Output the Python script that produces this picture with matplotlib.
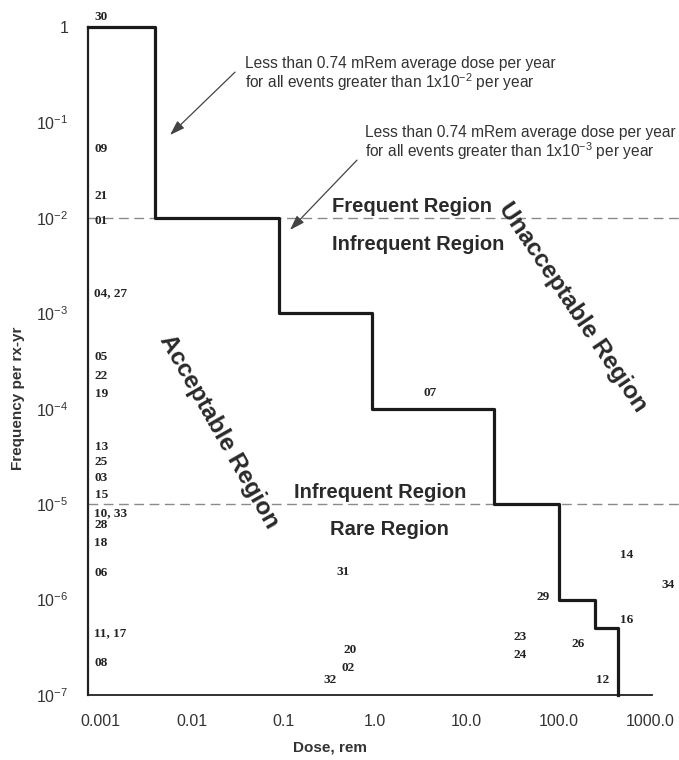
import matplotlib
matplotlib.use("Agg")
import matplotlib.pyplot as plt

plt.rcParams['font.family'] = ['Liberation Sans', 'DejaVu Sans']
plt.rcParams['mathtext.fontset'] = 'custom'
plt.rcParams['mathtext.rm'] = 'Liberation Sans'
plt.rcParams['mathtext.it'] = 'Liberation Sans:italic'
plt.rcParams['mathtext.bf'] = 'Liberation Sans:bold'

# ---- data ----
step_dose = [0.00074, 0.004, 0.09, 0.92, 20, 100, 250, 450]
step_freq = [1, 1e-2, 1e-3, 1e-4, 1e-5, 1e-6, 5e-7, 1e-7]

x_ticks = [0.001, 0.01, 0.1, 1.0, 10.0, 100.0, 1000.0]
x_ticklabels = ["0.001", "0.01", "0.1", "1.0", "10.0", "100.0", "1000.0"]
y_ticks = [1, 1e-1, 1e-2, 1e-3, 1e-4, 1e-5, 1e-6, 1e-7]
y_ticklabels = ["1", "10$^{-1}$", "10$^{-2}$", "10$^{-3}$", "10$^{-4}$",
                "10$^{-5}$", "10$^{-6}$", "10$^{-7}$"]

boundary_freqs = [1e-2, 1e-5]

event_labels = ["30", "09", "21", "01", "04, 27", "05", "22", "19", "13", "25",
                "03", "15", "10, 33", "28", "18", "06", "11, 17", "08", "32",
                "07", "31", "20", "02", "23", "24", "26", "29", "14", "34",
                "16", "12"]
event_dose = [0.00102, 0.00103, 0.00103, 0.00103, 0.00135, 0.00103, 0.00103,
              0.00103, 0.00103, 0.00103, 0.00103, 0.00103, 0.00135, 0.00103,
              0.00103, 0.00103, 0.00135, 0.00103, 0.322,
              3.97, 0.447, 0.532, 0.505, 38.0, 38.0, 163, 67.8, 558, 1563,
              558, 306]
event_freq = [1.27, 0.0526, 0.0169, 0.00927, 0.00163, 3.48e-4, 2.20e-4,
              1.43e-4, 3.97e-5, 2.77e-5, 1.88e-5, 1.25e-5, 8.07e-6, 6.04e-6,
              3.92e-6, 1.90e-6, 4.47e-7, 2.16e-7, 1.44e-7,
              1.46e-4, 1.95e-6, 2.97e-7, 1.92e-7, 4.06e-7, 2.62e-7, 3.42e-7,
              1.06e-6, 2.93e-6, 1.42e-6, 6.11e-7, 1.44e-7]

# ---- figure ----
fig = plt.figure(figsize=(6.79, 7.60), dpi=100)
ax = fig.add_axes([88/679, 65/760, (679-88)/679, (695-27)/760])
ax.set_xscale('log')
ax.set_yscale('log')
ax.set_xlim(0.00074, 2060)
ax.set_ylim(1e-7, 1)

for s in ['top', 'right']:
    ax.spines[s].set_visible(False)
ax.spines['left'].set_linewidth(1.6)
ax.spines['bottom'].set_linewidth(1.3)
ax.spines['left'].set_color('#222222')
ax.spines['bottom'].set_color('#222222')
ax.spines['bottom'].set_bounds(0.00074, 1050)

ax.set_xticks(x_ticks)
ax.set_xticklabels(x_ticklabels)
ax.set_yticks(y_ticks)
ax.set_yticklabels(y_ticklabels)
ax.minorticks_off()
ax.tick_params(axis='both', length=0, labelsize=11.5, colors='#333333')
ax.tick_params(axis='x', pad=14)
ax.tick_params(axis='y', pad=14)

# boundary dashed lines
for f in boundary_freqs:
    ax.axhline(f, color='#8a8a8a', lw=1.0, dashes=(7, 4), zorder=1)

# step curve
ax.step(step_dose, step_freq, where='post', color='#1a1a1a', lw=2.3,
        clip_on=False, zorder=3)

# event labels
for lab, d, f in zip(event_labels, event_dose, event_freq):
    ha = 'left' if ',' in lab else 'center'
    dd = 0.00085 if ',' in lab else d
    ax.text(dd, f, lab, ha=ha, va='center', fontsize=9.5, fontweight='bold',
            family=['Liberation Serif', 'DejaVu Serif'], color='#222222',
            clip_on=False)

# region texts
rkw = dict(fontsize=14.5, fontweight='bold', color='#2a2a2a', ha='center', va='center')
ax.text(2.52, 0.013, "Frequent Region", **rkw)
ax.text(2.94, 0.0053, "Infrequent Region", **rkw)
ax.text(1.13, 1.31e-5, "Infrequent Region", **rkw)
ax.text(1.45, 5.36e-6, "Rare Region", **rkw)
ax.text(0.0199, 5.7e-5, "Acceptable Region", rotation=-60.4,
        rotation_mode='anchor', fontsize=17.5, fontweight='bold',
        color='#2a2a2a', ha='center', va='center')
ax.text(144, 1.16e-3, "Unacceptable Region", rotation=-56,
        rotation_mode='anchor', fontsize=17.5, fontweight='bold',
        color='#2a2a2a', ha='center', va='center')

# annotations
akw = dict(fontsize=11.2, color='#333333', ha='left', va='center',
           linespacing=1.05)
ax.text(0.0381, 0.318,
        "Less than 0.74 mRem average dose per year\n"
        "for all events greater than 1x10$^{-2}$ per year", **akw)
ax.text(0.776, 0.0601,
        "Less than 0.74 mRem average dose per year\n"
        "for all events greater than 1x10$^{-3}$ per year", **akw)
arrowprops = dict(arrowstyle='-|>,head_length=0.9,head_width=0.3',
                  color='#444444', lw=0.9, shrinkA=0, shrinkB=0)
ax.annotate("", xy=(0.0058, 0.0738), xytext=(0.0297, 0.337),
            arrowprops=arrowprops)
ax.annotate("", xy=(0.118, 0.00747), xytext=(0.635, 0.0403),
            arrowprops=arrowprops)

# axis labels
fig.text(18/679, 1 - 398/760, "Frequency per rx-yr", rotation=90,
         ha='center', va='center', fontsize=11, fontweight='bold',
         color='#333333')
fig.text(330/679, 1 - 748/760, "Dose, rem", ha='center', va='center',
         fontsize=11, fontweight='bold', color='#333333')

fig.savefig("out.png", dpi=100)
